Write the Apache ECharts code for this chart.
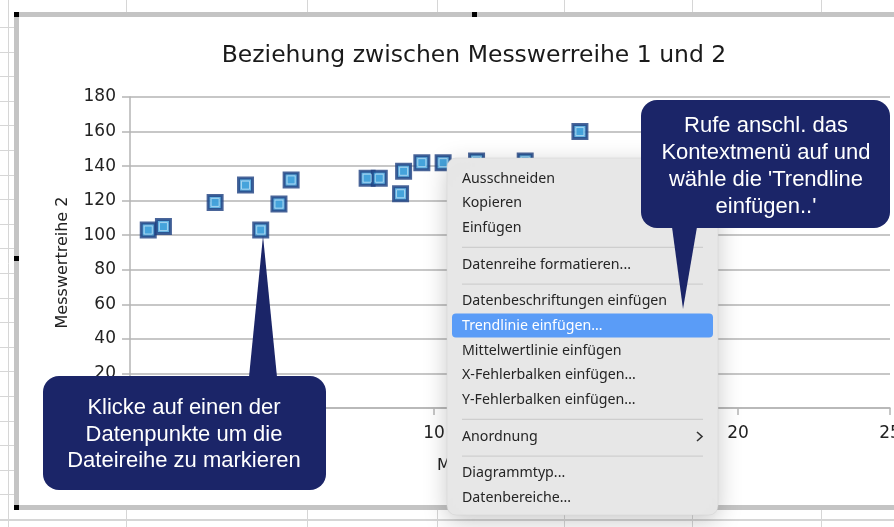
<!DOCTYPE html>
<html>
<head>
<meta charset="utf-8">
<script src="https://cdn.jsdelivr.net/npm/echarts@6/dist/echarts.min.js"></script>
<style>
  html, body { margin: 0; padding: 0; background: #ffffff; }
  #chart { width: 894px; height: 527px; }
</style>
</head>
<body>
<div id="chart"></div>
<script>
const xValues = [0.6, 1.1, 2.8, 3.8, 4.3, 4.9, 5.3, 7.8, 8.2, 8.9, 9.0, 9.6, 10.3, 11.4, 13.0, 14.8];
const yValues = [103, 105, 119, 129, 103, 118, 132, 133, 133, 124, 137, 142, 142, 143, 143, 160];

const chartTitle = 'Beziehung zwischen Messwerreihe 1 und 2';
const xAxisName = 'Messwertreihe 1';
const yAxisName = 'Messwertreihe 2';

// Kontextmenü-Einträge ('-' = Trennlinie)
const menuItems = [
    'Ausschneiden', 'Kopieren', 'Einfügen', '-',
    'Datenreihe formatieren...', '-',
    'Datenbeschriftungen einfügen', 'Trendlinie einfügen...', 'Mittelwertlinie einfügen',
    'X-Fehlerbalken einfügen...', 'Y-Fehlerbalken einfügen...', '-',
    'Anordnung', '-', 'Diagrammtyp...', 'Datenbereiche...'
];
const highlighted = 'Trendlinie einfügen...';

const calloutLeft = ['Klicke auf einen der', 'Datenpunkte um die', 'Dateireihe zu markieren'];
const calloutRight = ['Rufe anschl. das', 'Kontextmenü auf und', "wähle die 'Trendline", "einfügen..'"];

const chartFont = '"DejaVu Sans", sans-serif';

// z auf alle Elemente setzen (Gruppen geben z nicht weiter)
function withZ(els, z) {
    els.forEach(e => { e.z = z; e.silent = true; });
    return els;
}

function sheetGrid() {
    // Tabellenraster hinter dem Diagrammrahmen
    const lines = [];
    const cols = [8, 126, 307, 437, 564, 692, 821];
    cols.forEach(x => lines.push({
        type: 'line',
        shape: { x1: x + 0.5, y1: 0, x2: x + 0.5, y2: 527 },
        style: { stroke: '#d6d6d6', lineWidth: 1 }
    }));
    for (let y = 27; y < 527; y += 24.6) {
        lines.push({
            type: 'line',
            shape: { x1: 0, y1: Math.round(y) + 0.5, x2: 894, y2: Math.round(y) + 0.5 },
            style: { stroke: '#d6d6d6', lineWidth: 1 }
        });
    }
    lines.push({
        type: 'line',
        shape: { x1: 0, y1: 520.5, x2: 894, y2: 520.5 },
        style: { stroke: '#d6d6d6', lineWidth: 1 }
    });
    const frame = [{
        type: 'rect',
        shape: { x: 16.5, y: 14.5, width: 900, height: 493 },
        style: { fill: '#ffffff', stroke: '#c4c4c4', lineWidth: 5 }
    }];
    const handles = [[14, 12], [472, 12], [14, 256], [14, 505], [472, 505]].map(p => ({
        type: 'rect',
        shape: { x: p[0], y: p[1], width: 5, height: 5 },
        style: { fill: '#000000' }
    }));
    return [...withZ(lines, -3), ...withZ(frame, -2), ...withZ(handles, 40)];
}

function contextMenu() {
    const left = 447, top = 158, width = 271, height = 357;
    const els = [{
        type: 'rect',
        shape: { x: left, y: top, width: width, height: height, r: 9 },
        style: { fill: '#e7e7e7', stroke: '#d0d0d0', lineWidth: 0.5,
            shadowBlur: 24, shadowColor: 'rgba(0,0,0,0.22)', shadowOffsetY: 6 }
    }];
    let y = top + 20.5;
    menuItems.forEach(item => {
        if (item === '-') {
            els.push({
                type: 'line',
                shape: { x1: 462, y1: y - 5, x2: 703, y2: y - 5 },
                style: { stroke: '#c9c9c9', lineWidth: 1 }
            });
            y += 12.2;
            return;
        }
        const active = item === highlighted;
        if (active) {
            els.push({
                type: 'rect',
                shape: { x: 452, y: y - 12.5, width: 261, height: 24, r: 4 },
                style: { fill: '#5a9cf7' }
            });
        }
        els.push({
            type: 'text',
            style: {
                text: item, x: 462, y: y,
                fill: active ? '#ffffff' : '#252525',
                font: '14.2px "Noto Sans", sans-serif',
                textVerticalAlign: 'middle'
            }
        });
        if (item === 'Anordnung') {
            els.push({
                type: 'polyline',
                shape: { points: [[697, y - 4.5], [702, y], [697, y + 4.5]] },
                style: { stroke: '#333333', lineWidth: 1.6, fill: null }
            });
        }
        y += 24.6;
    });
    return withZ(els, 50);
}

function callout(box, tip, base, lines, cx, firstY, lh) {
    return withZ([
        { type: 'rect', shape: { x: box[0], y: box[1], width: box[2], height: box[3], r: 16 },
          style: { fill: '#1b2568' } },
        { type: 'polygon', shape: { points: [base[0], base[1], tip] },
          style: { fill: '#1b2568' } },
        { type: 'text', style: {
            text: lines.join('\n'), x: cx, y: firstY,
            fill: '#ffffff', font: '22px "Liberation Sans", Arial, sans-serif',
            textAlign: 'center', textVerticalAlign: 'top', lineHeight: lh
        } }
    ], 60);
}

const chart = echarts.init(document.getElementById('chart'));

const axisColor = '#b5b5b5';
const option = {
    animation: false,
    backgroundColor: '#ffffff',
    title: {
        text: chartTitle,
        left: 469, top: 39, textAlign: 'center',
        textStyle: { fontFamily: chartFont, fontSize: 23.5, fontWeight: 'normal', color: '#1a1a1a' }
    },
    grid: { left: 130, right: 4, top: 97, bottom: 119, containLabel: false, outerBoundsMode: 'none' },
    xAxis: {
        type: 'value', min: 0, max: 25, interval: 5,
        name: xAxisName, nameLocation: 'middle', nameGap: 50,
        nameTextStyle: { fontFamily: chartFont, fontSize: 16, color: '#222', padding: [0, 14, 0, 0] },
        axisLine: { show: true, lineStyle: { color: axisColor, width: 1.5 } },
        axisTick: { show: true, length: 7, lineStyle: { color: axisColor, width: 1.5 } },
        axisLabel: { fontFamily: chartFont, fontSize: 17, color: '#222', margin: 17, showMaxLabel: true },
        splitLine: { show: false }
    },
    yAxis: {
        type: 'value', min: 0, max: 180, interval: 20,
        name: yAxisName, nameLocation: 'middle', nameGap: 59, nameRotate: 90,
        nameTextStyle: { fontFamily: chartFont, fontSize: 16, color: '#222', padding: [0, 20, 0, 0] },
        axisLine: { show: true, lineStyle: { color: axisColor, width: 1.5 } },
        axisTick: { show: true, length: 8, lineStyle: { color: axisColor, width: 1.5 } },
        axisLabel: { fontFamily: chartFont, fontSize: 17, color: '#222', margin: 14 },
        splitLine: { show: true, lineStyle: { color: axisColor, width: 1.5 } }
    },
    series: [{
        type: 'scatter',
        data: xValues.map((x, i) => [x, yValues[i]]),
        symbol: 'rect', symbolSize: 14,
        itemStyle: { color: '#3d9fd9', borderColor: '#1d3f80', borderWidth: 3 },
        z: 3
    }, {
        type: 'scatter',
        data: xValues.map((x, i) => [x, yValues[i]]),
        symbol: 'rect', symbolSize: 8,
        itemStyle: { color: '#3d9fd9', borderColor: '#b9def5', borderWidth: 1 },
        z: 4
    }],
    graphic: [
        ...sheetGrid(),
        ...contextMenu(),
        ...callout([641, 100, 249, 128], [683, 309], [[672, 227], [697, 227]],
            calloutRight, 766, 112.5, 27),
        ...callout([43, 376, 283, 114], [263, 236], [[249, 377], [277, 377]],
            calloutLeft, 184, 395, 26.5)
    ]
};

chart.setOption(option);
window.addEventListener('resize', chart.resize);
</script>
</body>
</html>
